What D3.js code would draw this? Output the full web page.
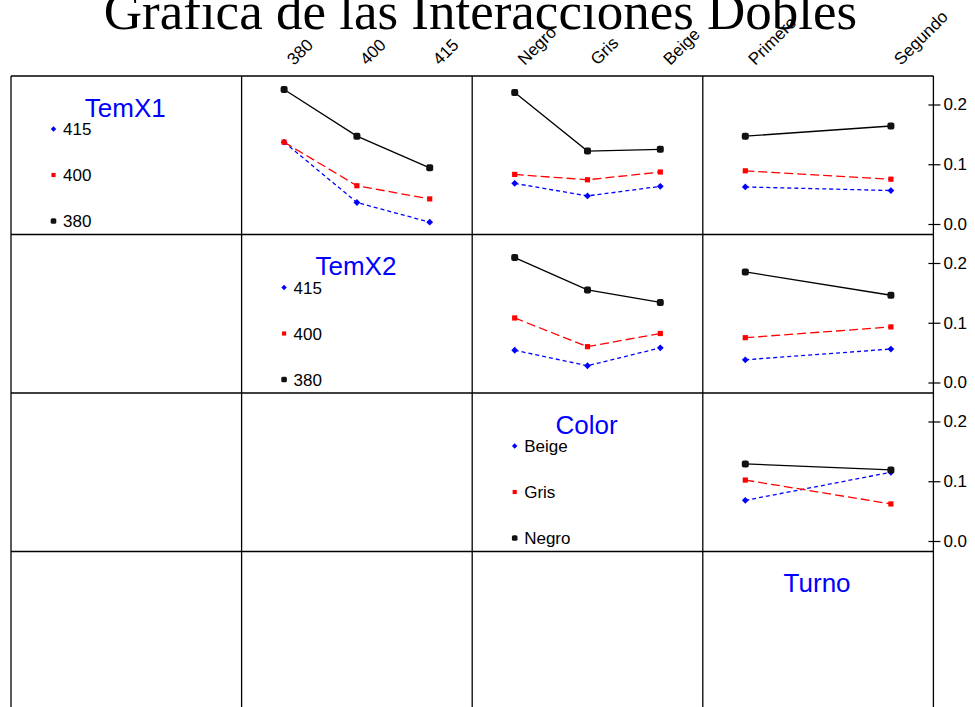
<!DOCTYPE html>
<html>
<head>
<meta charset="utf-8">
<script src="https://cdn.jsdelivr.net/npm/d3@7"></script>
<style>
  body { margin: 0; background: #fff; }
  text { font-family: Arial, "Liberation Sans", sans-serif; }
</style>
</head>
<body>
<svg id="chart" width="975" height="707"></svg>
<script>
// Factor levels
const factorNames = ["TemX1", "TemX2", "Color", "Turno"];
const temX1Levels = ["380", "400", "415"];
const temX2Levels = ["380", "400", "415"];
const colorLevels = ["Negro", "Gris", "Beige"];
const turnoLevels = ["Primero", "Segundo"];
const yTicks = [0, 0.1, 0.2];

// Cell means: one row per level of the traced factor, one column per level of the x factor
const temX1ByTemX2 = [[0.225, 0.147, 0.094], [0.137, 0.064, 0.042], [0.137, 0.036, 0.003]];
const temX1ByColor = [[0.220, 0.122, 0.125], [0.083, 0.074, 0.087], [0.068, 0.047, 0.063]];
const temX1ByTurno = [[0.147, 0.164], [0.089, 0.075], [0.062, 0.056]];
const temX2ByColor = [[0.209, 0.155, 0.134], [0.108, 0.060, 0.082], [0.054, 0.028, 0.058]];
const temX2ByTurno = [[0.185, 0.146], [0.075, 0.093], [0.038, 0.056]];
const colorByTurno = [[0.129, 0.119], [0.102, 0.062], [0.068, 0.115]];

const factorLevels = [temX1Levels, temX2Levels, colorLevels, turnoLevels];

const panels = [
  { row: 0, col: 1, values: temX1ByTemX2 },
  { row: 0, col: 2, values: temX1ByColor },
  { row: 0, col: 3, values: temX1ByTurno },
  { row: 1, col: 2, values: temX2ByColor },
  { row: 1, col: 3, values: temX2ByTurno },
  { row: 2, col: 3, values: colorByTurno }
];

// Trace styles by level index of the traced factor
const traceColor = ["#000000", "#ff0000", "#0000ff"];
const traceDash = [null, "9,4", "4,3"];

const svg = d3.select("#chart");
const gridLeft = 11, gridTop = 76, pw = 230.6, ph = 158.5;
const gridRight = gridLeft + 4 * pw;

// Title (runs past the top edge of the page)
svg.append("text")
  .attr("x", 480.5).attr("y", 29)
  .attr("text-anchor", "middle")
  .style("font-family", "'Liberation Serif', 'Times New Roman', serif")
  .style("font-size", "53px")
  .text("Gráfica de las Interacciones Dobles");

function xScale(col) {
  return d3.scalePoint()
    .domain(factorLevels[col])
    .range([gridLeft + col * pw + 42.5, gridLeft + (col + 1) * pw - 42.5]);
}
function yScale(row) {
  return d3.scaleLinear()
    .domain([0, 0.2])
    .range([gridTop + row * ph + 148, gridTop + row * ph + 28.5]);
}

// Panel grid
const grid = svg.append("g").attr("stroke", "#000").attr("stroke-width", 1.3);
d3.range(5).forEach(i => {
  grid.append("line")
    .attr("x1", gridLeft + i * pw).attr("x2", gridLeft + i * pw)
    .attr("y1", gridTop).attr("y2", 720);
});
d3.range(4).forEach(j => {
  grid.append("line")
    .attr("x1", gridLeft).attr("x2", gridRight)
    .attr("y1", gridTop + j * ph).attr("y2", gridTop + j * ph);
});

// Column level labels along the top
const defs = svg.append("defs");
defs.append("clipPath").attr("id", "firstTurnoClip")
  .append("rect").attr("x", 700).attr("y", 0).attr("width", 100).attr("height", 76);

[1, 2, 3].forEach(col => {
  const x = xScale(col);
  factorLevels[col].forEach((lev, i) => {
    const g = svg.append("g");
    if (col === 3 && i === 0) g.attr("clip-path", "url(#firstTurnoClip)");
    g.append("text")
      .attr("transform", `translate(${x(lev) + 10},66) rotate(-45)`)
      .style("font-size", "17px")
      .text(lev);
  });
});

// Y axes on the right for the first three rows
[0, 1, 2].forEach(row => {
  const ax = svg.append("g")
    .attr("transform", `translate(${gridRight},0)`)
    .call(d3.axisRight(yScale(row))
      .tickValues(yTicks)
      .tickFormat(d3.format(".1f"))
      .tickSizeInner(7)
      .tickSizeOuter(0)
      .tickPadding(3));
  ax.select(".domain").remove();
  ax.selectAll(".tick line").attr("x1", -5).attr("stroke", "#000").attr("stroke-width", 1.2);
  ax.selectAll(".tick text")
    .style("font-size", "17px")
    .style("font-family", "Arial, 'Liberation Sans', sans-serif")
    .attr("fill", "#000");
});

// Marker shapes
function drawMarker(g, idx, cx, cy, scale) {
  const s = scale || 1;
  if (idx === 0) {
    g.append("rect")
      .attr("x", cx - 3.5 * s).attr("y", cy - 3.5 * s)
      .attr("width", 7 * s).attr("height", 7 * s)
      .attr("rx", 2 * s)
      .attr("fill", "#111");
  } else if (idx === 1) {
    g.append("rect")
      .attr("x", cx - 2.6 * s).attr("y", cy - 2.6 * s)
      .attr("width", 5.2 * s).attr("height", 5.2 * s)
      .attr("fill", "#ff0000");
  } else {
    const r = 3.4 * s;
    g.append("path")
      .attr("d", `M${cx},${cy - r}L${cx + r},${cy}L${cx},${cy + r}L${cx - r},${cy}Z`)
      .attr("fill", "#0000ff");
  }
}

// Interaction lines
panels.forEach(p => {
  const x = xScale(p.col), y = yScale(p.row);
  const levels = factorLevels[p.col];
  const g = svg.append("g");
  const line = d3.line().x((d, i) => x(levels[i])).y(d => y(d));
  // black drawn last so it sits on top
  [2, 1, 0].forEach(t => {
    g.append("path")
      .attr("d", line(p.values[t]))
      .attr("fill", "none")
      .attr("stroke", traceColor[t])
      .attr("stroke-width", 1.3)
      .attr("stroke-dasharray", traceDash[t]);
    p.values[t].forEach((v, i) => drawMarker(g, t, x(levels[i]), y(v)));
  });
});

// Legends on the diagonal
factorNames.forEach((name, r) => {
  const px = gridLeft + r * pw, py = gridTop + r * ph;
  const g = svg.append("g");
  g.append("text")
    .attr("x", px + pw / 2 - 1).attr("y", py + 40.5)
    .attr("text-anchor", "middle")
    .attr("fill", "#0000ff")
    .style("font-size", "26px")
    .text(name);
  if (r < 3) {
    const levs = factorLevels[r];
    const baselines = [151, 105, 59];
    levs.forEach((lev, i) => {
      drawMarker(g, i, px + 42.5, py + baselines[i] - 6, 0.8);
      g.append("text")
        .attr("x", px + 52).attr("y", py + baselines[i])
        .style("font-size", "17px")
        .text(lev);
    });
  }
});
</script>
</body>
</html>
